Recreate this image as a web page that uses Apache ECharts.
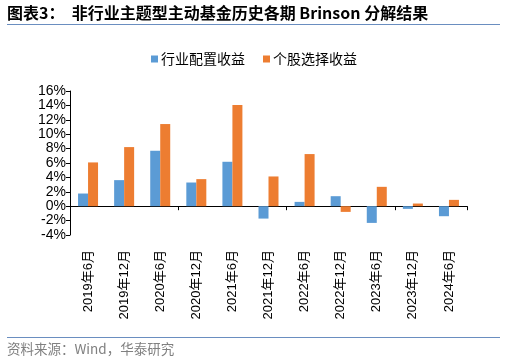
<!DOCTYPE html>
<html><head><meta charset="utf-8">
<script src="https://cdn.jsdelivr.net/npm/echarts@6/dist/echarts.min.js"></script>
<style>html,body{margin:0;padding:0;background:#fff}#c{width:506px;height:361px}</style>
</head><body><div id="c"></div>
<script>
const categories = ['2019年6月','2019年12月','2020年6月','2020年12月','2021年6月','2021年12月','2022年6月','2022年12月','2023年6月','2023年12月','2024年6月'];
const industryAlloc = [1.76, 3.62, 7.70, 3.29, 6.17, -1.72, 0.60, 1.39, -2.32, -0.37, -1.39];
const stockSelect = [6.08, 8.21, 11.41, 3.76, 14.05, 4.13, 7.24, -0.79, 2.69, 0.37, 0.88];
const yTicks = {min: -4, max: 16, interval: 2};
const seriesNames = ['行业配置收益', '个股选择收益'];

const chart = echarts.init(document.getElementById('c'), null, {renderer: 'canvas'});
const font = '"Liberation Sans", Arial, "Noto Sans CJK SC", sans-serif';
chart.setOption({
  animation: false,
  grid: {left: 70, top: 91, right: 39, bottom: 126, containLabel: false},
  legend: {
    data: seriesNames, top: 47, left: 146, itemWidth: 7, itemHeight: 7, itemGap: 18,
    icon: 'rect', textStyle: {fontSize: 14, color: '#000', padding: [0, 0, 0, -2], fontFamily: '"Noto Sans CJK SC", sans-serif'}
  },
  xAxis: [{
    type: 'category', data: categories, position: 'bottom',
    axisLine: {show: false, onZero: false}, axisTick: {show: false},
    axisLabel: {rotate: 90, margin: 15, fontSize: 13, color: '#000', fontFamily: font, interval: 0}
  }, {
    type: 'category', data: categories, position: 'bottom',
    axisLine: {show: true, onZero: true, lineStyle: {color: '#000', width: 1}},
    axisTick: {show: true, length: 4, inside: false, lineStyle: {color: '#000'}},
    axisLabel: {show: false}
  }],
  yAxis: {
    type: 'value', min: yTicks.min, max: yTicks.max, interval: yTicks.interval,
    axisLine: {show: true, lineStyle: {color: '#000'}},
    axisTick: {show: true, length: 4, lineStyle: {color: '#000'}},
    splitLine: {show: false},
    axisLabel: {formatter: v => v + '%', fontSize: 14, color: '#000', fontFamily: font, margin: 4}
  },
  series: [{
    name: seriesNames[0], type: 'bar', data: industryAlloc, barWidth: 10, barGap: '0%',
    itemStyle: {color: '#5B9BD5'}
  }, {
    name: seriesNames[1], type: 'bar', data: stockSelect, barWidth: 10, barGap: '0%',
    itemStyle: {color: '#ED7D31'}
  }],
  graphic: [
    {type: 'text', left: 7, top: 5, style: {text: '图表3：  非行业主题型主动基金历史各期 Brinson 分解结果', fontSize: 16, fontWeight: 'bold', fill: '#000', fontFamily: '"Noto Sans CJK SC", "Liberation Sans", sans-serif'}},
    {type: 'line', shape: {x1: 7, y1: 24.5, x2: 500, y2: 24.5}, style: {stroke: '#6A8EC0', lineWidth: 1}},
    {type: 'line', shape: {x1: 7, y1: 337.5, x2: 500, y2: 337.5}, style: {stroke: '#6A8EC0', lineWidth: 1}},
    {type: 'text', left: 7, top: 342, style: {text: '资料来源：Wind，华泰研究', fontSize: 13.5, fill: '#808080', fontFamily: '"Noto Sans CJK SC", sans-serif'}}
  ]
});
</script></body></html>
